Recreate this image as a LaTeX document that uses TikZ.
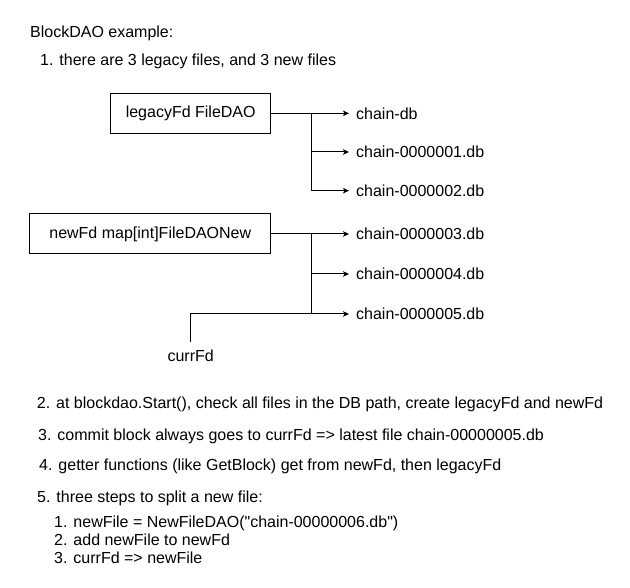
\documentclass[tikz,border=0pt]{standalone}
\usepackage{fontspec}
\setmainfont{Liberation Sans}[Ligatures=TeXOff]
\usepackage{tikz}
\usetikzlibrary{arrows.meta}

\tikzset{
  txt/.style={font=\fontsize{16}{18}\selectfont, inner sep=0pt},
  fdbox/.style={draw, line width=1pt, minimum height=40pt, txt},
  filename/.style={txt, anchor=west, inner xsep=7pt},
  arr/.style={line width=1pt, -{Stealth[length=6pt,width=5.5pt,inset=1.5pt]}},
  plain/.style={line width=1pt}
}

\begin{document}
\begin{tikzpicture}[x=1pt,y=-1pt]
  \useasboundingbox (0,0) rectangle (630,588);

  % heading and first point
  \node [txt, anchor=base west] (title) at (30,37.5) {BlockDAO example:};
  \node [txt, anchor=base west] (item-1) at (40,65.5) {1. there are 3 legacy files, and 3 new files};

  % the two file dao boxes
  \node [fdbox, minimum width=160pt] (legacy) at (190.7,113.3) {legacyFd FileDAO};
  \node [fdbox, minimum width=240.7pt] (newfd) at (150.3,234) {newFd map[int]FileDAONew};

  % files on the right
  \foreach \n/\y/\t in {
    db/113.3/chain-db,
    1/152/chain-0000001.db,
    2/190.7/chain-0000002.db,
    3/234/chain-0000003.db,
    4/274/chain-0000004.db,
    5/314/chain-0000005.db%
  } {
    \node [filename] (f-\n) at (349,\y) {\t};
  }

  % junctions
  \coordinate (jl) at (311,113.3);
  \coordinate (jn) at (311,234);

  % legacy files
  \draw [arr] (legacy) -- (f-db);
  \foreach \n in {1,2} {
    \draw [arr] (jl) |- (f-\n);
  }

  % new files
  \draw [arr] (newfd) -- (f-3);
  \foreach \n in {4,5} {
    \draw [arr] (jn) |- (f-\n);
  }

  % current file pointer
  \node [txt, anchor=north, inner ysep=8pt] (currfd) at (190.7,341.7) {currFd};
  \draw [plain] (currfd.north) |- (jn |- f-5.west);

  % remaining points
  \foreach \n/\x/\y/\t in {
    2/36.7/409/{2. at blockdao.Start(), check all files in the DB path, create legacyFd and newFd},
    3/38/440/{3. commit block always goes to currFd => latest file chain-00000005.db},
    4/39/470.5/{4. getter functions (like GetBlock) get from newFd, then legacyFd},
    5/37/502/{5. three steps to split a new file:},
    5a/54/527/{1. newFile = NewFileDAO("chain-00000006.db")},
    5b/54/545/{2. add newFile to newFd},
    5c/54/563/{3. currFd => newFile}%
  } {
    \node [txt, anchor=base west] (item-\n) at (\x,\y) {\t};
  }
\end{tikzpicture}
\end{document}
